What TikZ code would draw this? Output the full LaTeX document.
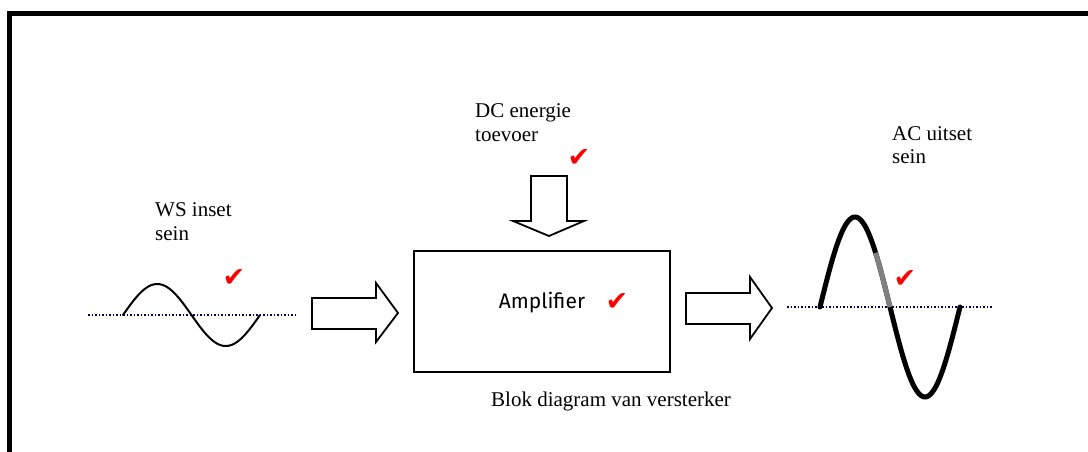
\documentclass[tikz,border=0pt]{standalone}
\usepackage{fontspec}
\setmainfont{Liberation Serif}
\newfontfamily\ampfont{Fira Sans}
\newfontfamily\symfont{DejaVu Sans}
\usetikzlibrary{positioning}

\begin{document}
\begin{tikzpicture}[
    x=1pt, y=-1pt,
    caption/.style={align=left, inner sep=0pt, anchor=base west, font=\fontsize{21}{24}\selectfont},
    okmark/.style={text=red, inner sep=0pt, font=\symfont\fontsize{27}{27}\selectfont},
    blockarrow/.style={draw=black, line width=1.8pt, fill=white, line join=miter},
    axis/.style={dotted, line width=1.5pt, draw=black!70!blue},
    wave/.style={line width=2pt, line cap=round}
]
\useasboundingbox (0,0) rectangle (1088,452);

% Frame
\draw[line width=5pt] (9.5,452) -- (9.5,13.5) -- (1092,13.5);

% Amplifier block
\node[draw, line width=1.8pt, minimum width=256pt, minimum height=121pt, inner sep=0pt] (amp) at (542,311.5) {};
\node[font=\ampfont\fontsize{21}{24}\selectfont, inner sep=0pt] (amptext) at (542,303) {Amplifier};
\node[okmark] (okamp) at (617,302) {✔};
\node[caption] (blok) at (491,406) {Blok diagram van versterker};

% Block arrows
\draw[blockarrow] (312,298) -- (376,298) -- (376,283) -- (398,313) -- (376,342) -- (376,329) -- (312,329) -- cycle;
\draw[blockarrow] (531,176) -- (567,176) -- (567,221) -- (584,221) -- (549,236) -- (513,221) -- (531,221) -- cycle;
\draw[blockarrow] (686,293) -- (750,293) -- (750,277) -- (772,308) -- (750,339) -- (750,324) -- (686,324) -- cycle;

% DC supply
\node[caption] (dctext) at (475,141) {DC energie\\toevoer};
\node[okmark] (okdc) at (579,158) {✔};

% Input signal
\node[caption] (intext) at (155,240) {WS inset\\sein};
\node[okmark] (okin) at (234,278) {✔};
\coordinate (inzero) at (123,315);
\draw[axis] (88,315) -- (295,315);
\draw[wave] plot[domain=0:360, samples=90, smooth] ({123+\x/360*137}, {315-31*sin(\x)});

% Output signal
\node[caption] (outtext) at (892,164) {AC uitset\\sein};
\node[okmark] (okout) at (905,279) {✔};
\coordinate (outzero) at (820,307);
\draw[axis] (787,307) -- (992,307);
\draw[wave, line width=5pt] plot[domain=0:360, samples=90, smooth] ({820+\x/360*140}, {307-90*sin(\x)});
\draw[line width=5pt, draw=gray] plot[domain=143:180, samples=10, smooth] ({820+\x/360*140}, {307-90*sin(\x)});

\end{tikzpicture}
\end{document}
